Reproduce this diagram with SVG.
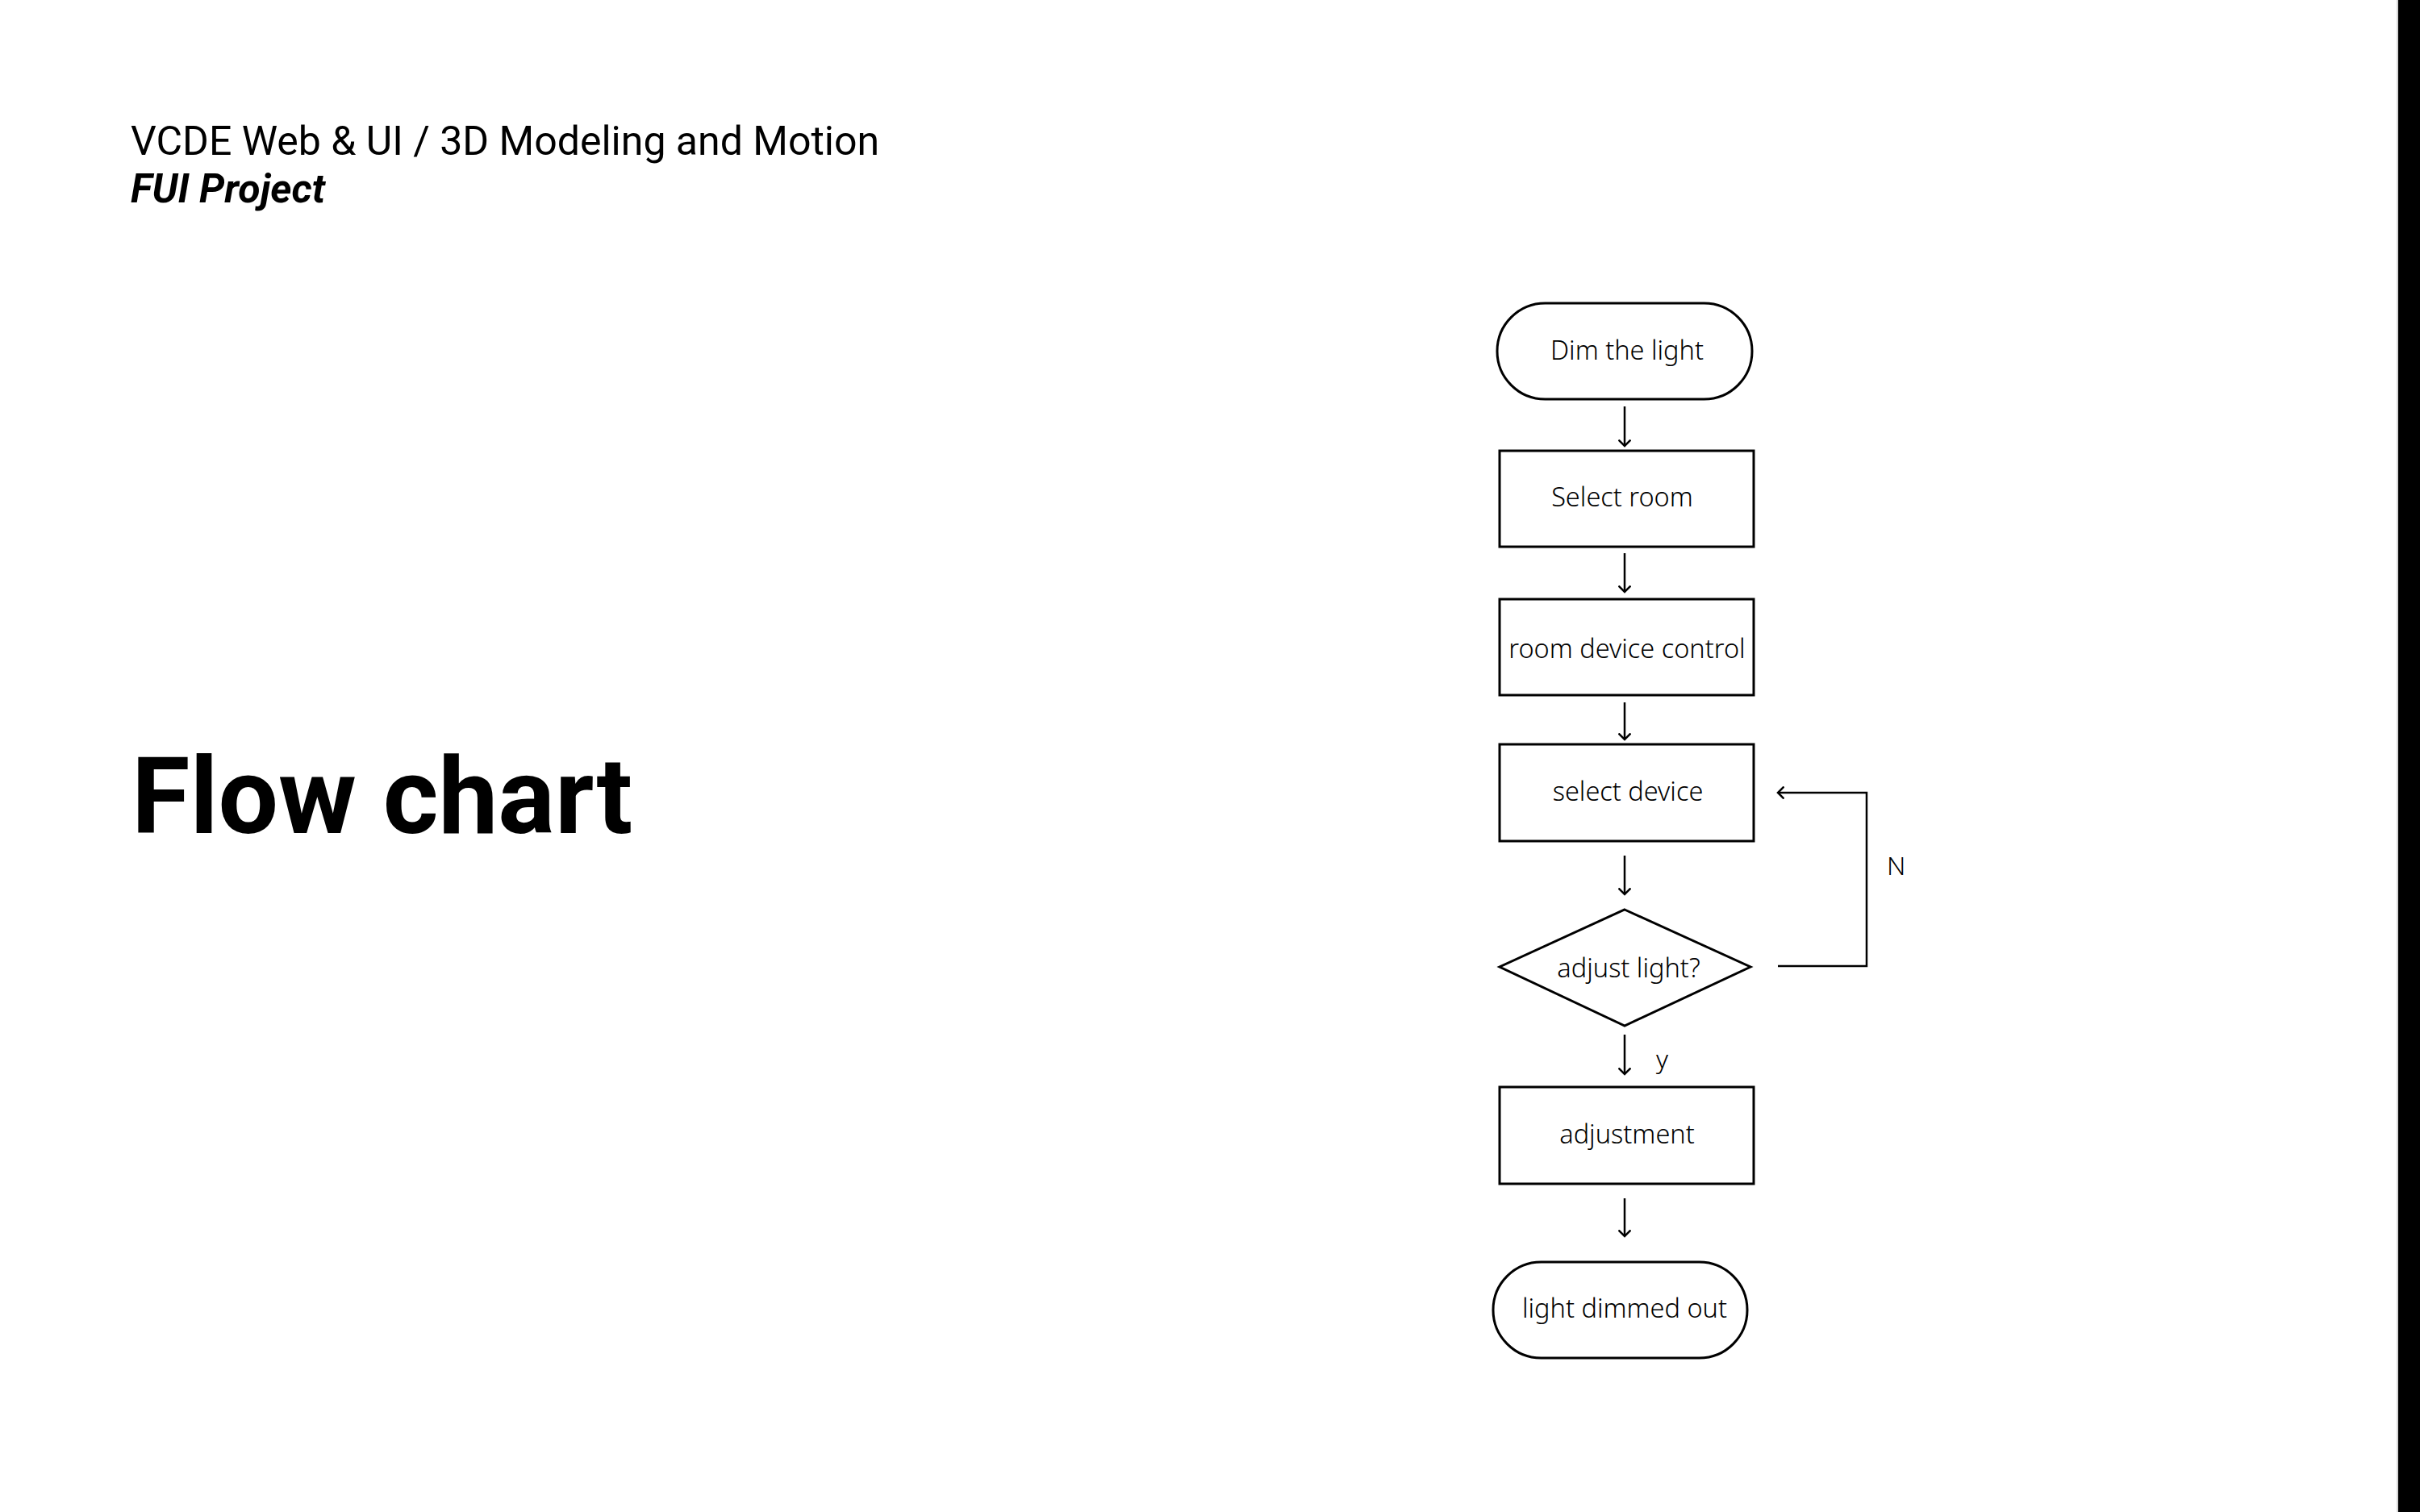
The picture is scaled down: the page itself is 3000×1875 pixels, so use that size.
<svg xmlns="http://www.w3.org/2000/svg" width="3000" height="1875" viewBox="0 0 3000 1875">
<style>
.node{fill:#fff;stroke:#000;stroke-width:3}
.lbl{font-family:"Noto Sans",sans-serif;font-weight:300;font-size:32.5px;fill:#000;text-anchor:middle}
.conn{fill:none;stroke:#000;stroke-width:2.5}
.tag{font-family:"Noto Sans",sans-serif;font-weight:300;font-size:32px;fill:#000}
</style>
<defs>
<marker id="arr" viewBox="-8 -8 16 16" markerWidth="16" markerHeight="16" refX="0" refY="0" orient="auto" markerUnits="userSpaceOnUse">
<path d="M-7.5,-7.5 L0,0 L-7.5,7.5" fill="none" stroke="#000" stroke-width="2.5"/>
</marker>
</defs>
<rect width="3000" height="1875" fill="#fff"/>
<rect x="2973" y="0" width="27" height="1875" fill="#000"/>
<line x1="2972" y1="0" x2="2972" y2="1875" stroke="#aaa" stroke-width="1"/>

<g id="header">
<text x="162" y="192" font-family="Roboto, sans-serif" font-size="50" fill="#000">VCDE Web &amp; UI / 3D Modeling and Motion</text>
<text x="162" y="251" font-family="Roboto, sans-serif" font-size="50" font-weight="700" font-style="italic" fill="#000">FUI Project</text>
</g>
<g id="title">
<text x="163" y="1033" font-family="Roboto, sans-serif" font-size="132" font-weight="700" fill="#000">Flow chart</text>
</g>

<g id="n-start">
<rect class="node" x="1856" y="376" width="316" height="119" rx="59.5"/>
<text class="lbl" x="2017" y="446">Dim the light</text>
</g>
<g id="n-select-room">
<rect class="node" x="1859" y="559" width="315" height="119"/>
<text class="lbl" x="2011" y="628">Select room</text>
</g>
<g id="n-room-device-control">
<rect class="node" x="1859" y="743" width="315" height="119"/>
<text class="lbl" x="2017" y="816">room device control</text>
</g>
<g id="n-select-device">
<rect class="node" x="1859" y="923" width="315" height="120"/>
<text class="lbl" x="2018" y="993">select device</text>
</g>
<g id="n-adjust">
<polygon class="node" points="2014,1128 2170,1199 2014,1272 1859,1199"/>
<text class="lbl" x="2019" y="1212">adjust light?</text>
</g>
<g id="n-adjustment">
<rect class="node" x="1859" y="1348" width="315" height="120"/>
<text class="lbl" x="2017" y="1418">adjustment</text>
</g>
<g id="n-end">
<rect class="node" x="1851" y="1565" width="315" height="119" rx="59.5"/>
<text class="lbl" x="2014" y="1634">light dimmed out</text>
</g>

<g id="connectors">
<line class="conn" x1="2014" y1="504" x2="2014" y2="553" marker-end="url(#arr)"/>
<line class="conn" x1="2014" y1="686" x2="2014" y2="734" marker-end="url(#arr)"/>
<line class="conn" x1="2014" y1="871" x2="2014" y2="917" marker-end="url(#arr)"/>
<line class="conn" x1="2014" y1="1061" x2="2014" y2="1109" marker-end="url(#arr)"/>
<line class="conn" x1="2014" y1="1283" x2="2014" y2="1332" marker-end="url(#arr)"/>
<line class="conn" x1="2014" y1="1486" x2="2014" y2="1533" marker-end="url(#arr)"/>
<polyline class="conn" points="2204,1198 2314,1198 2314,983 2204,983" marker-end="url(#arr)"/>
<text class="tag" x="2339" y="1085">N</text>
<text class="tag" x="2053" y="1325">y</text>
</g>
</svg>
